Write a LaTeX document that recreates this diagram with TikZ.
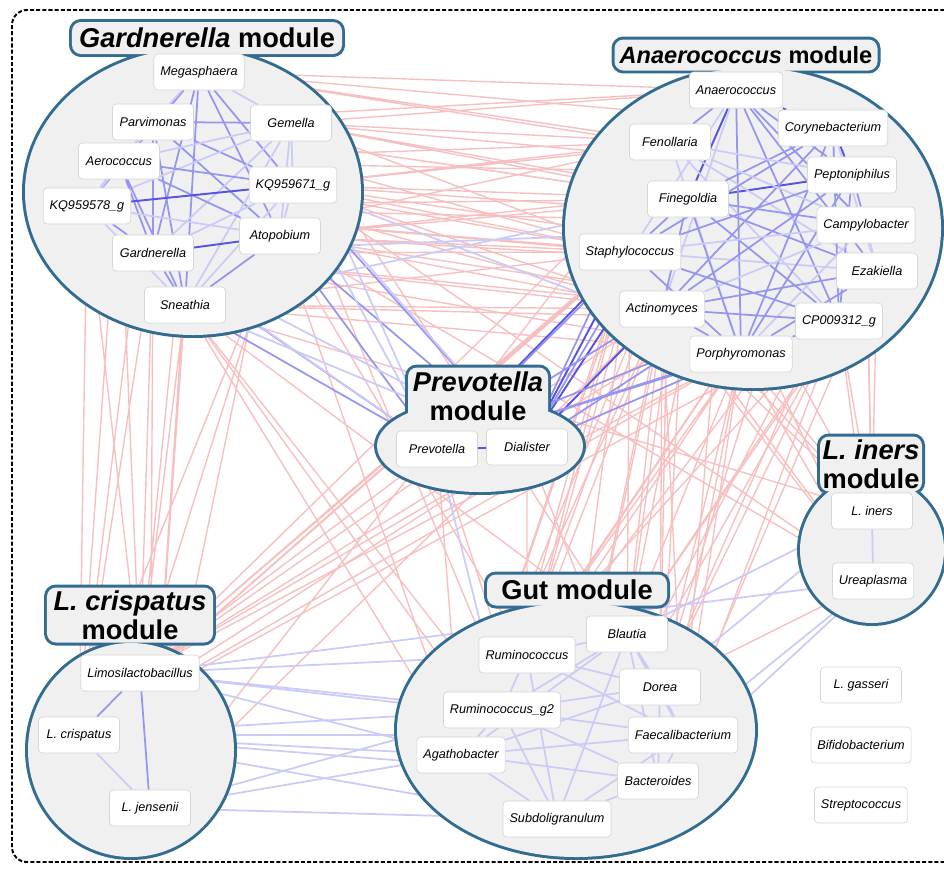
\documentclass[tikz,border=0pt]{standalone}
\usepackage{fontspec}
\setmainfont{Liberation Sans}
\usepackage{xcolor}
\usetikzlibrary{shapes.geometric}

\definecolor{modline}{RGB}{50,108,145}
\definecolor{modfill}{RGB}{240,240,240}
\definecolor{boxline}{RGB}{214,214,214}
\definecolor{posblue}{RGB}{150,150,240}
\definecolor{posdark}{RGB}{85,85,225}
\definecolor{negred}{RGB}{247,192,192}

\pgfdeclarelayer{inter}
\pgfdeclarelayer{modules}
\pgfdeclarelayer{intra}
\pgfsetlayers{inter,modules,intra,main}

\tikzset{
    taxon/.style={draw=boxline, fill=white, rounded corners=0.8mm, minimum width=16.2mm,
        minimum height=7.2mm, inner xsep=1.3mm, font=\fontsize{7.2}{8}\selectfont\itshape},
    modbody/.style={ellipse, draw=modline, fill=modfill, line width=3.4pt, inner sep=0pt, outer sep=0pt},
    modtab/.style={rectangle, draw=modline, fill=modfill, line width=3.4pt, rounded corners=1.8mm,
        inner sep=0pt, outer sep=0pt},
    modtitle/.style={font=\fontsize{15.5}{16.5}\selectfont\bfseries, align=center, inner sep=0pt},
    posedge/.style={draw=posblue, line width=1pt},
    posstrong/.style={draw=posdark, line width=1.1pt},
    posweak/.style={draw=posblue!50, line width=1pt},
    negedge/.style={draw=negred, line width=0.8pt},
    frame/.style={dashed, dash pattern=on 2.3pt off 1.2pt, line width=1.1pt, rounded corners=3mm}
}

\begin{document}
\begin{tikzpicture}[x=0.2mm, y=-0.2mm]
    \useasboundingbox (0,0) rectangle (944,868);
    \clip (0,0) rectangle (944,868);
    \draw[frame] (12,10) rectangle (975,862);

    % Gardnerella module taxa
    \node[taxon] (meg) at (199,72) {Megasphaera};
    \node[taxon] (parv) at (153,122) {Parvimonas};
    \node[taxon] (gem) at (291,123) {Gemella};
    \node[taxon] (aero) at (119,161) {Aerococcus};
    \node[taxon] (kq71) at (293,185) {KQ959671\_g};
    \node[taxon] (kq78) at (87,206) {KQ959578\_g};
    \node[taxon] (atop) at (280,236) {Atopobium};
    \node[taxon] (gard) at (153,253) {Gardnerella};
    \node[taxon] (snea) at (185,305) {Sneathia};

    % Anaerococcus module taxa
    \node[taxon] (anae) at (736,90) {Anaerococcus};
    \node[taxon] (cory) at (833,128) {Corynebacterium};
    \node[taxon] (feno) at (670,142) {Fenollaria};
    \node[taxon] (pept) at (852,175) {Peptoniphilus};
    \node[taxon] (fine) at (688,199) {Finegoldia};
    \node[taxon] (camp) at (866,225) {Campylobacter};
    \node[taxon] (stap) at (630,252) {Staphylococcus};
    \node[taxon] (ezak) at (877,271) {Ezakiella};
    \node[taxon] (acti) at (662,309) {Actinomyces};
    \node[taxon] (cp09) at (839,321) {CP009312\_g};
    \node[taxon] (porp) at (741,354) {Porphyromonas};

    % Prevotella module taxa
    \node[taxon] (prev) at (437,449) {Prevotella};
    \node[taxon] (dial) at (527,447) {Dialister};

    % L. crispatus module taxa
    \node[taxon] (limo) at (140,673) {Limosilactobacillus};
    \node[taxon] (lcri) at (79,735) {L. crispatus};
    \node[taxon] (ljen) at (150,808) {L. jensenii};

    % Gut module taxa
    \node[taxon] (blau) at (627,634) {Blautia};
    \node[taxon] (rumi) at (527,655) {Ruminococcus};
    \node[taxon] (dore) at (660,687) {Dorea};
    \node[taxon] (rug2) at (502,710) {Ruminococcus\_g2};
    \node[taxon] (faec) at (683,735) {Faecalibacterium};
    \node[taxon] (agat) at (461,755) {Agathobacter};
    \node[taxon] (bact) at (658,781) {Bacteroides};
    \node[taxon] (subd) at (557,819) {Subdoligranulum};

    % L. iners module taxa and the unlinked ones
    \node[taxon] (liner) at (872,511) {L. iners};
    \node[taxon] (urea) at (873,581) {Ureaplasma};
    \node[taxon] (lgas) at (861,685) {L. gasseri};
    \node[taxon] (bifi) at (861,745) {Bifidobacterium};
    \node[taxon] (strep) at (861,805) {Streptococcus};

    \begin{pgfonlayer}{modules}
        % outlines first, then fill again so only the outer edge stays
        \node[modbody, minimum width=67.2mm, minimum height=57.2mm] (gardBody) at (193,192) {};
        \node[modtab, minimum width=54mm, minimum height=6.4mm] (gardTab) at (207,38) {};
        \node[modbody, minimum width=75.2mm, minimum height=64mm] (anaeBody) at (753,228) {};
        \node[modtab, minimum width=52.6mm, minimum height=6.2mm] (anaeTab) at (746,55) {};
        \node[modbody, minimum width=41.2mm, minimum height=18.4mm] (prevBody) at (480,446) {};
        \node[modtab, minimum width=28mm, minimum height=11.4mm] (prevTab) at (478,396) {};
        \node[modbody, minimum width=41.2mm, minimum height=42.8mm] (lcriBody) at (131,750) {};
        \node[modtab, minimum width=33.2mm, minimum height=11mm] (lcriTab) at (130,615) {};
        \node[modbody, minimum width=71.6mm, minimum height=50.8mm] (gutBody) at (576,730) {};
        \node[modtab, minimum width=36mm, minimum height=6.2mm] (gutTab) at (577,590) {};
        \node[modbody, minimum width=28.8mm, minimum height=29.2mm] (linerBody) at (872,550) {};
        \node[modtab, minimum width=20.4mm, minimum height=11mm] (linerTab) at (871,464) {};

        \fill[modfill] (gardBody.center) ellipse [x radius=33.6mm, y radius=28.6mm];
        \fill[modfill] (anaeBody.center) ellipse [x radius=37.6mm, y radius=32mm];
        \fill[modfill] (prevBody.center) ellipse [x radius=20.6mm, y radius=9.2mm];
        \fill[modfill] (lcriBody.center) ellipse [x radius=20.6mm, y radius=21.4mm];
        \fill[modfill] (gutBody.center) ellipse [x radius=35.8mm, y radius=25.4mm];
        \fill[modfill] (linerBody.center) ellipse [x radius=14.4mm, y radius=14.6mm];
        \fill[modfill, rounded corners=1.8mm] (gardTab.south west) rectangle (gardTab.north east);
        \fill[modfill, rounded corners=1.8mm] (anaeTab.south west) rectangle (anaeTab.north east);
        \fill[modfill, rounded corners=1.8mm] (prevTab.south west) rectangle (prevTab.north east);
        \fill[modfill, rounded corners=1.8mm] (lcriTab.south west) rectangle (lcriTab.north east);
        \fill[modfill, rounded corners=1.8mm] (gutTab.south west) rectangle (gutTab.north east);
        \fill[modfill, rounded corners=1.8mm] (linerTab.south west) rectangle (linerTab.north east);

        \node[modtitle] (gardTitle) at (gardTab) {\textit{Gardnerella} module};
        \node[modtitle, font=\fontsize{13.4}{14}\selectfont\bfseries] (anaeTitle) at (anaeTab) {\textit{Anaerococcus} module};
        \node[modtitle] (prevTitle) at (prevTab) {\textit{Prevotella}\\module};
        \node[modtitle] (lcriTitle) at (lcriTab) {\textit{L. crispatus}\\module};
        \node[modtitle] (gutTitle) at (gutTab) {Gut module};
        \node[modtitle] (linerTitle) at (linerTab) {\textit{L. iners}\\module};
    \end{pgfonlayer}

    \begin{pgfonlayer}{intra}
        % Gardnerella module
        \draw[posedge] (meg) -- (gard) (meg) -- (snea) (meg) -- (atop) (meg) -- (kq71) (meg) -- (aero) (meg) -- (kq78);
        \draw[posweak] (meg) -- (gem) (meg) -- (parv) (parv) -- (kq78) (parv) -- (aero) (gem) -- (kq71) (aero) -- (kq78);
        \draw[posedge] (parv) -- (gem) (parv) -- (kq71) (parv) -- (atop) (parv) -- (snea) (parv) -- (gard);
        \draw[posweak] (gem) -- (aero) (gem) -- (atop) (gem) -- (snea) (gem) -- (gard) (gem) -- (kq78);
        \draw[posedge] (aero) -- (kq71) (aero) -- (atop) (aero) -- (gard) (aero) -- (snea);
        \draw[posweak] (kq71) -- (gard) (kq71) -- (snea) (kq71) -- (atop) (kq78) -- (atop) (kq78) -- (snea);
        \draw[posedge] (kq78) -- (gard) (atop) -- (snea) (gard) -- (snea);
        \draw[posstrong] (kq71) -- (kq78) (atop) -- (gard);

        % Anaerococcus module
        \draw[posstrong] (anae) -- (cory) (anae) -- (fine) (fine) -- (pept) (cory) -- (pept);
        \draw[posedge] (anae) -- (feno) (anae) -- (pept) (anae) -- (camp) (anae) -- (ezak) (anae) -- (cp09) (anae) -- (porp);
        \draw[posweak] (anae) -- (stap) (anae) -- (acti) (cory) -- (ezak) (feno) -- (ezak) (stap) -- (ezak);
        \draw[posedge] (cory) -- (fine) (cory) -- (acti) (cory) -- (stap) (cory) -- (cp09) (cory) -- (porp);
        \draw[posweak] (feno) -- (pept) (feno) -- (camp) (feno) -- (porp) (feno) -- (cp09);
        \draw[posedge] (pept) -- (acti) (pept) -- (stap) (pept) -- (cp09) (pept) -- (porp) (pept) -- (camp);
        \draw[posedge] (fine) -- (stap) (fine) -- (acti) (fine) -- (porp) (fine) -- (camp) (fine) -- (ezak) (fine) -- (cp09);
        \draw[posweak] (camp) -- (acti) (camp) -- (stap) (camp) -- (porp) (camp) -- (ezak);
        \draw[posedge] (stap) -- (porp) (stap) -- (cp09) (ezak) -- (acti) (ezak) -- (porp);
        \draw[posedge] (acti) -- (porp) (acti) -- (cp09) (cp09) -- (porp);

        % Prevotella, L. crispatus and L. iners modules
        \draw[posstrong] (prev) -- (dial);
        \draw[posedge] (limo) -- (lcri) (limo) -- (ljen);
        \draw[posweak] (lcri) -- (ljen) (liner) -- (urea);

        % Gut module
        \draw[posweak] (blau) -- (rumi) (blau) -- (rug2) (blau) -- (dore) (blau) -- (faec) (blau) -- (bact) (blau) -- (subd) (blau) -- (agat);
        \draw[posweak] (rumi) -- (dore) (rumi) -- (faec) (rumi) -- (subd) (rumi) -- (rug2);
        \draw[posweak] (dore) -- (rug2) (dore) -- (faec) (dore) -- (bact) (dore) -- (agat);
        \draw[posweak] (rug2) -- (faec) (rug2) -- (bact) (rug2) -- (subd) (rug2) -- (agat);
        \draw[posweak] (faec) -- (agat) (faec) -- (subd) (faec) -- (bact) (agat) -- (bact) (agat) -- (subd) (bact) -- (subd);
    \end{pgfonlayer}

    \begin{pgfonlayer}{inter}
        % Gardnerella module to Anaerococcus module
        \draw[negedge] (meg) -- (anae) (meg) -- (feno) (meg) -- (cory) (meg) -- (pept);
        \draw[negedge] (gem) -- (anae) (gem) -- (feno) (gem) -- (fine) (gem) -- (pept) (gem) -- (camp) (gem) -- (stap);
        \draw[negedge] (kq71) -- (feno) (kq71) -- (fine) (kq71) -- (stap) (kq71) -- (cory) (kq71) -- (camp) (kq71) -- (ezak) (kq71) -- (acti);
        \draw[negedge] (atop) -- (fine) (atop) -- (stap) (atop) -- (acti) (atop) -- (ezak) (atop) -- (cp09) (atop) -- (pept);
        \draw[negedge] (parv) -- (fine) (parv) -- (stap) (parv) -- (anae) (parv) -- (camp);
        \draw[negedge] (aero) -- (feno) (aero) -- (stap) (aero) -- (pept) (aero) -- (acti);
        \draw[negedge] (kq78) -- (fine) (kq78) -- (ezak) (kq78) -- (camp) (kq78) -- (stap);
        \draw[negedge] (gard) -- (stap) (gard) -- (acti) (gard) -- (cp09) (gard) -- (porp) (gard) -- (feno);
        \draw[negedge] (snea) -- (acti) (snea) -- (porp) (snea) -- (stap) (snea) -- (cp09);

        % Gardnerella and Anaerococcus modules to L. crispatus module
        \draw[negedge] (kq78) -- (lcri) (kq78) -- (limo) (aero) -- (limo) (aero) -- (lcri) (gard) -- (limo) (gard) -- (lcri);
        \draw[negedge] (gard) -- (ljen) (snea) -- (limo) (snea) -- (ljen) (parv) -- (lcri) (meg) -- (limo) (meg) -- (ljen);
        \draw[negedge] (atop) -- (lcri) (kq71) -- (limo) (gem) -- (ljen);
        \draw[negedge] (stap) -- (limo) (stap) -- (lcri) (acti) -- (limo) (acti) -- (ljen) (fine) -- (lcri) (fine) -- (limo);
        \draw[negedge] (porp) -- (limo) (porp) -- (lcri) (feno) -- (ljen) (camp) -- (limo) (cp09) -- (lcri) (anae) -- (limo);

        % Gardnerella and Anaerococcus modules to Gut module
        \draw[negedge] (stap) -- (blau) (stap) -- (rumi) (stap) -- (rug2) (stap) -- (agat) (stap) -- (subd);
        \draw[negedge] (acti) -- (blau) (acti) -- (rumi) (acti) -- (dore) (acti) -- (faec) (acti) -- (agat) (acti) -- (subd);
        \draw[negedge] (porp) -- (blau) (porp) -- (dore) (porp) -- (rumi) (porp) -- (rug2) (porp) -- (bact) (porp) -- (faec);
        \draw[negedge] (cp09) -- (blau) (cp09) -- (dore) (cp09) -- (faec) (cp09) -- (subd);
        \draw[negedge] (fine) -- (blau) (fine) -- (rug2) (fine) -- (agat) (fine) -- (subd) (fine) -- (bact);
        \draw[negedge] (feno) -- (rumi) (feno) -- (agat) (feno) -- (dore) (ezak) -- (blau) (ezak) -- (rumi) (ezak) -- (bact);
        \draw[negedge] (camp) -- (rug2) (camp) -- (dore) (camp) -- (subd) (anae) -- (blau) (anae) -- (faec);
        \draw[negedge] (pept) -- (rumi) (pept) -- (agat) (cory) -- (dore);
        \draw[negedge] (atop) -- (rumi) (atop) -- (agat) (snea) -- (rug2) (snea) -- (blau) (kq71) -- (subd);
        \draw[negedge] (gard) -- (agat) (gem) -- (dore) (snea) -- (subd);

        % to L. iners module
        \draw[negedge] (acti) -- (liner) (acti) -- (urea) (porp) -- (liner) (porp) -- (urea) (stap) -- (urea) (fine) -- (urea);
        \draw[negedge] (cp09) -- (urea) (camp) -- (urea) (feno) -- (liner) (stap) -- (liner) (ezak) -- (liner);
        \draw[negedge] (cp09) -- (liner) (camp) -- (liner) (atop) -- (urea) (snea) -- (liner) (kq71) -- (urea) (dore) -- (urea);

        % Prevotella module to L. crispatus and Gut modules
        \draw[negedge] (limo) -- (prev) (limo) -- (dial) (lcri) -- (dial) (prev) -- (subd) (dial) -- (bact);
        \draw[negedge] (dial) -- (rumi) (prev) -- (agat);

        % Prevotella module to Anaerococcus and Gardnerella modules
        \draw[posstrong] (dial) -- (stap) (dial) -- (acti) (dial) -- (fine) (prev) -- (stap);
        \draw[posedge] (dial) -- (porp) (dial) -- (feno) (dial) -- (camp) (dial) -- (anae) (prev) -- (acti);
        \draw[posedge] (prev) -- (fine) (prev) -- (porp) (prev) -- (cp09) (prev) -- (ezak);
        \draw[posedge] (prev) -- (atop) (prev) -- (gard) (prev) -- (snea) (dial) -- (atop) (dial) -- (kq71);
        \draw[posweak] (prev) -- (kq71) (prev) -- (gem) (dial) -- (snea) (dial) -- (gard) (prev) -- (kq78) (dial) -- (meg);
        \draw[posweak] (snea) -- (fine) (gard) -- (camp) (kq71) -- (porp) (prev) -- (rug2);

        % L. crispatus module to Gut and L. iners modules
        \draw[posweak] (lcri) -- (agat) (lcri) -- (rug2) (lcri) -- (subd) (lcri) -- (bact) (limo) -- (rumi) (limo) -- (rug2);
        \draw[posweak] (limo) -- (agat) (ljen) -- (agat) (ljen) -- (rug2) (ljen) -- (subd) (limo) -- (faec) (lcri) -- (faec);
        \draw[posweak] (limo) -- (urea) (faec) -- (urea) (blau) -- (liner) (bact) -- (urea) (dore) -- (liner);
    \end{pgfonlayer}
\end{tikzpicture}
\end{document}
